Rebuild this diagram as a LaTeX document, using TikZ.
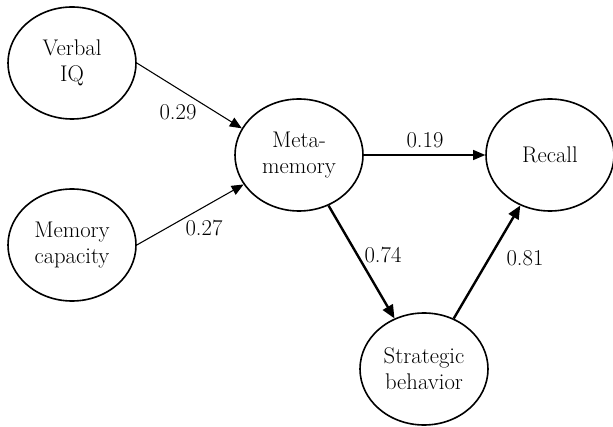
\documentclass[tikz,border=0pt]{standalone}
\usepackage{amsmath}
\usepackage{tikz}
\usetikzlibrary{arrows.meta,shapes}

\begin{document}
\begin{tikzpicture}[x=0.75pt,y=-0.75pt,
latent/.style={draw,ellipse,line width=1.2pt,minimum width=96pt,minimum height=84pt,inner sep=0pt,align=center,font=\fontsize{17}{19.5}\selectfont},
thinpath/.style={-{Triangle[length=9pt,width=7.5pt]},line width=0.8pt},
thickpath/.style={-{Triangle[length=10pt,width=8.5pt]},line width=1.8pt},
coef/.style={font=\fontsize{17}{19.5}\selectfont}]
\useasboundingbox(0,0)rectangle(613,427);
% latent variables
\node[latent](viq)at(72,63){Verbal\\IQ};
\node[latent](mcap)at(72,245){Memory\\capacity};
\node[latent](meta)at(299,155){Meta-\\memory};
\node[latent](recall)at(550,155){Recall};
\node[latent](strat)at(424,369){Strategic\\behavior};
% paths
\draw[thinpath](viq.east)--(meta.155);
\draw[thinpath](mcap.east)--(meta.208);
\draw[thinpath](meta.east)--(recall.west);
\draw[thickpath](meta)--(strat);
\draw[thickpath](strat)--(recall);
% coefficients
\node[coef](c29)at(178,112){0.29};
\node[coef](c27)at(204,228){0.27};
\node[coef](c19)at(425,140){0.19};
\node[coef](c74)at(383,255){0.74};
\node[coef](c81)at(525,258){0.81};
\end{tikzpicture}
\end{document}
